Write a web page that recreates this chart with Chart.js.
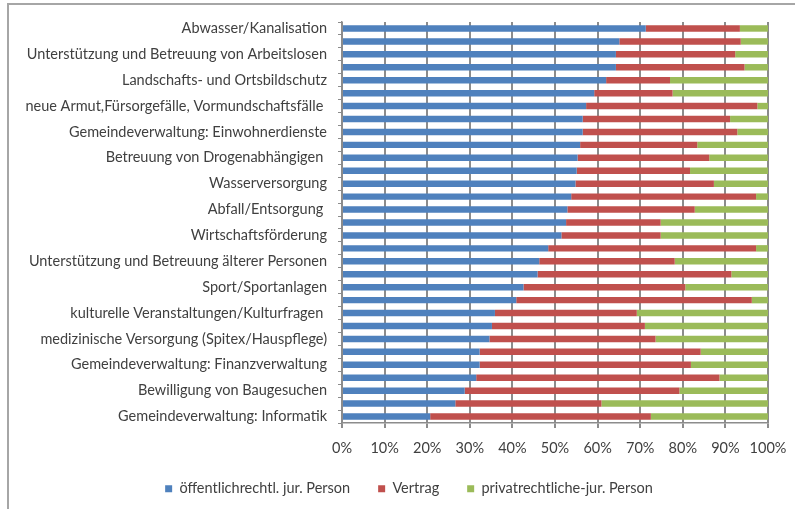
<!DOCTYPE html>
<html>
<head>
<meta charset="utf-8">
<script src="https://cdn.jsdelivr.net/npm/chart.js@4"></script>
<style>
  html, body { margin: 0; padding: 0; background: #fff; }
  #wrap { position: relative; width: 795px; height: 509px; overflow: hidden; }
  #frame { position: absolute; left: 7px; top: 3px; width: 900px; height: 700px; border: 2px solid #a6a6a6; box-sizing: border-box; }
  #c { position: absolute; left: 0; top: 0; }
</style>
</head>
<body>
<div id="wrap">
  <div id="frame"></div>
  <canvas id="c" width="795" height="509"></canvas>
</div>
<script>
const categories = [
  "Abwasser/Kanalisation", "",
  "Unterstützung und Betreuung von Arbeitslosen", "",
  "Landschafts- und Ortsbildschutz", "",
  "neue Armut,Fürsorgefälle, Vormundschaftsfälle ", "",
  "Gemeindeverwaltung: Einwohnerdienste", "",
  "Betreuung von Drogenabhängigen ", "",
  "Wasserversorgung", "",
  "Abfall/Entsorgung ", "",
  "Wirtschaftsförderung", "",
  "Unterstützung und Betreuung älterer Personen", "",
  "Sport/Sportanlagen", "",
  "kulturelle Veranstaltungen/Kulturfragen ", "",
  "medizinische Versorgung (Spitex/Hauspflege)", "",
  "Gemeindeverwaltung: Finanzverwaltung", "",
  "Bewilligung von Baugesuchen", "",
  "Gemeindeverwaltung: Informatik"
];
const seriesNames = ["öffentlichrechtl. jur. Person", "Vertrag", "privatrechtliche-jur. Person"];
const oeffentlich = [71.3, 65.1, 64.3, 64.3, 62.0, 59.2, 57.3, 56.5, 56.5, 55.9, 55.3, 55.1, 54.8, 53.8, 52.9, 52.6,
                     51.5, 48.4, 46.3, 45.9, 42.6, 40.9, 35.9, 35.2, 34.6, 32.3, 32.3, 31.5, 28.8, 26.6, 20.7];
const vertrag = [22.1, 28.5, 28.0, 30.2, 15.0, 18.4, 40.2, 34.6, 36.3, 27.5, 30.9, 26.6, 32.5, 43.4, 29.9, 22.2,
                 23.3, 48.8, 31.8, 45.5, 38.0, 55.3, 33.3, 35.9, 39.0, 51.9, 49.6, 57.1, 50.4, 34.3, 51.8];
const privat = [6.6, 6.4, 7.7, 5.5, 23.0, 22.4, 2.5, 8.9, 7.2, 16.6, 13.8, 18.3, 12.7, 2.8, 17.2, 25.2,
                25.2, 2.8, 21.9, 8.6, 19.4, 3.8, 30.8, 28.9, 26.4, 15.8, 18.1, 11.4, 20.8, 39.1, 27.5];
const xTicks = ["0%", "10%", "20%", "30%", "40%", "50%", "60%", "70%", "80%", "90%", "100%"];
const colors = ["#4F81BD", "#C0504D", "#9BBB59"];

const FONT = "Lato, 'Open Sans', sans-serif";
const GRID = '#8c8c8c';

// nudge the legend right, as in the original layout
const shiftLegend = {
  id: 'shiftLegend',
  afterLayout(chart) {
    const L = chart.legend; L.left += 25; L.right += 25;
  }
};

new Chart(document.getElementById('c'), {
  type: 'bar',
  data: {
    labels: categories,
    datasets: [oeffentlich, vertrag, privat].map((d, i) => ({
      label: seriesNames[i],
      data: d,
      backgroundColor: colors[i],
      borderWidth: 0,
      categoryPercentage: 0.5,
      barPercentage: 1.0
    }))
  },
  plugins: [shiftLegend],
  options: {
    indexAxis: 'y',
    responsive: false,
    animation: false,
    layout: { padding: { left: 0, right: 27, top: 22, bottom: 3 } },
    plugins: {
      tooltip: { enabled: false },
      legend: {
        position: 'bottom',
        labels: {
          boxWidth: 7, boxHeight: 7, padding: 28,
          color: '#404040',
          font: { family: FONT, size: 14.5 }
        }
      }
    },
    scales: {
      x: {
        stacked: true,
        min: 0, max: 100,
        ticks: {
          stepSize: 10,
          autoSkip: false,
          maxRotation: 0, minRotation: 0,
          color: '#404040',
          font: { family: FONT, size: 14.5 },
          padding: 12,
          callback: (v, i) => xTicks[i]
        },
        grid: { drawOnChartArea: true, color: GRID, lineWidth: 2, tickLength: 5, drawTicks: true },
        border: { color: GRID, width: 1.5 },
        afterFit: s => { s.height = 30.5; s.paddingLeft = 0; s.paddingRight = 0; }
      },
      y: {
        stacked: true,
        ticks: {
          autoSkip: false,
          color: '#404040',
          font: { family: FONT, size: 14.5 },
          padding: 11,
          callback: (v, i) => categories[i]
        },
        grid: { drawOnChartArea: false, color: GRID, tickLength: 4, offset: true },
        border: { color: GRID, width: 1.5 },
        afterFit: s => { s.width = 342; }
      }
    }
  }
});
</script>
</body>
</html>
